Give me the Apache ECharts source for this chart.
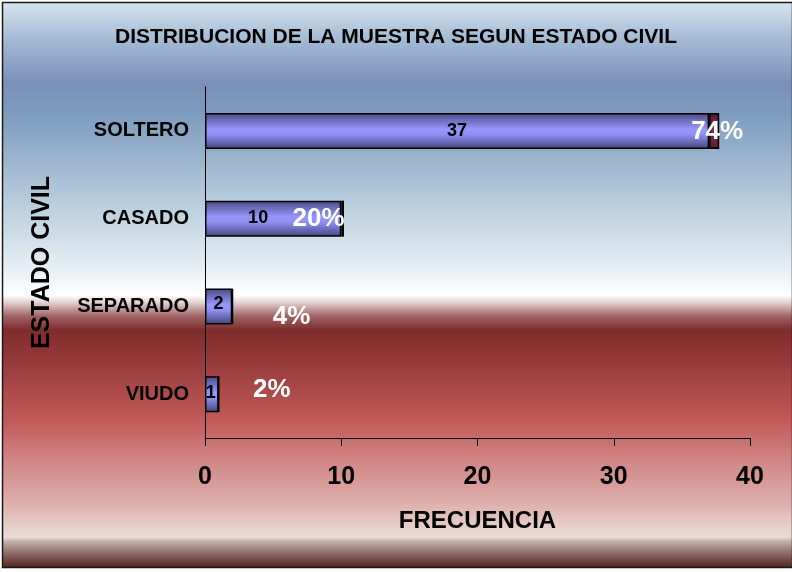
<!DOCTYPE html>
<html>
<head>
<meta charset="utf-8">
<script src="https://cdn.jsdelivr.net/npm/echarts@6/dist/echarts.min.js"></script>
<style>
html,body{margin:0;padding:0;background:#fff;}
#chart{width:792px;height:572px;}
</style>
</head>
<body>
<div id="chart"></div>
<script>
// ---- data ----
const categories = ['SOLTERO', 'CASADO', 'SEPARADO', 'VIUDO'];
const frequencies = [37, 10, 2, 1];
const proportions = [0.74, 0.20, 0.04, 0.02];
const percentLabels = ['74%', '20%', '4%', '2%'];
const xTicks = [0, 10, 20, 30, 40];

// ---- styling (label nudges as in the original) ----
const freqLabelOffsets = [[0, 0], [-15, -1], [0, -2], [-1, -1]];
const pctLabelOffsets = [[3, 1], [-24, 0], [59, 10], [53, -4]];

const FONT = '"Liberation Sans", Arial, sans-serif';

const chart = echarts.init(document.getElementById('chart'), null, {renderer: 'canvas'});

function vgrad(stops) {
  return new echarts.graphic.LinearGradient(0, 0, 0, 1, stops.map((c, i) => ({offset: c[0], color: c[1]})));
}

const blueFill = vgrad([[0, '#4a4a7e'], [0.18, '#6868b4'], [0.45, '#9696fc'], [0.6, '#9090f4'], [0.85, '#6060a8'], [1, '#46467a']]);
const redFill = vgrad([[0, '#4e1a30'], [0.2, '#6a2440'], [0.5, '#7c2c4a'], [0.8, '#6a2440'], [1, '#4e1a30']]);

const bgFill = new echarts.graphic.LinearGradient(0, 0, 0, 1, [
  {offset: 0.000, color: '#d8e6f1'},
  {offset: 0.060, color: '#a8bed6'},
  {offset: 0.145, color: '#7890b8'},
  {offset: 0.200, color: '#7e9cbe'},
  {offset: 0.350, color: '#b6ccdc'},
  {offset: 0.450, color: '#dde8f0'},
  {offset: 0.518, color: '#ffffff'},
  {offset: 0.530, color: '#e6d4d4'},
  {offset: 0.555, color: '#a06464'},
  {offset: 0.580, color: '#7e2c2a'},
  {offset: 0.660, color: '#a04242'},
  {offset: 0.738, color: '#c05a58'},
  {offset: 0.810, color: '#d08684'},
  {offset: 0.880, color: '#dcaca8'},
  {offset: 0.945, color: '#ecdcd6'},
  {offset: 0.952, color: '#c4b2ae'},
  {offset: 0.975, color: '#8a6660'},
  {offset: 1.000, color: '#52221c'}
]);

const option = {
  animation: false,
  graphic: [{
    type: 'rect',
    z: -100,
    silent: true,
    shape: {x: 2.5, y: 2.5, width: 790, height: 565},
    style: {fill: bgFill, stroke: '#1a1a1a', lineWidth: 1.5}
  }],
  title: {
    text: 'DISTRIBUCION DE LA MUESTRA SEGUN ESTADO CIVIL',
    left: 'center',
    top: 22,
    textStyle: {fontFamily: FONT, fontSize: 21, fontWeight: 'bold', color: '#000'}
  },
  grid: {left: 205, right: 42, top: 87, bottom: 134, containLabel: false},
  xAxis: {
    type: 'value',
    min: xTicks[0],
    max: xTicks[xTicks.length - 1],
    interval: xTicks[1] - xTicks[0],
    axisLine: {show: true, lineStyle: {color: '#000', width: 1}},
    axisTick: {show: true, length: 8, lineStyle: {color: '#000'}},
    splitLine: {show: false},
    axisLabel: {fontFamily: FONT, fontSize: 25, fontWeight: 'bold', color: '#000', margin: 27},
    name: 'FRECUENCIA',
    nameLocation: 'middle',
    nameGap: 71,
    nameTextStyle: {fontFamily: FONT, fontSize: 24, fontWeight: 'bold', color: '#000', verticalAlign: 'top'}
  },
  yAxis: {
    type: 'category',
    inverse: true,
    data: categories,
    axisLine: {show: true, lineStyle: {color: '#000', width: 1}},
    axisTick: {show: false},
    splitLine: {show: false},
    axisLabel: {fontFamily: FONT, fontSize: 20, fontWeight: 'bold', color: '#000', margin: 16},
    name: 'ESTADO CIVIL',
    nameLocation: 'middle',
    nameRotate: 90,
    nameGap: 150,
    nameTextStyle: {fontFamily: FONT, fontSize: 25, fontWeight: 'bold', color: '#000'}
  },
  series: [
    {
      type: 'bar',
      stack: 'total',
      barWidth: 36,
      data: frequencies.map((v, i) => ({
        value: v,
        label: {offset: freqLabelOffsets[i]}
      })),
      itemStyle: {color: blueFill, borderColor: '#000', borderWidth: 1.5},
      label: {
        show: true,
        position: 'inside',
        fontFamily: FONT, fontSize: 18, fontWeight: 'bold', color: '#000'
      }
    },
    {
      type: 'bar',
      stack: 'total',
      barWidth: 36,
      data: proportions.map((v, i) => ({
        value: v,
        label: {offset: pctLabelOffsets[i]}
      })),
      itemStyle: {color: redFill, borderColor: '#000', borderWidth: 1.5},
      label: {
        show: true,
        position: 'inside',
        formatter: p => percentLabels[p.dataIndex],
        fontFamily: FONT, fontSize: 26, fontWeight: 'bold', color: '#fff'
      }
    }
  ]
};
chart.setOption(option);
</script>
</body>
</html>
